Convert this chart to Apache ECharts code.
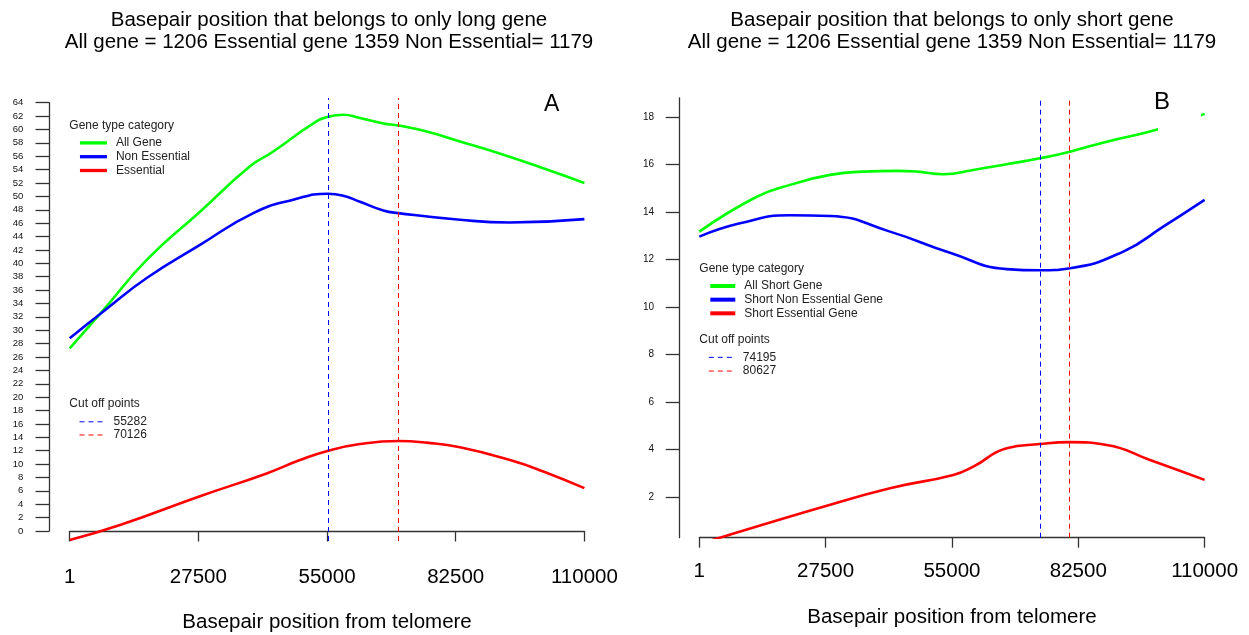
<!DOCTYPE html>
<html>
<head>
<meta charset="utf-8">
<title>Basepair position from telomere</title>
<script src="https://cdn.jsdelivr.net/npm/echarts@6/dist/echarts.min.js"></script>
<style>
  html, body { margin: 0; padding: 0; background: #fff; }
  #chart { width: 1249px; height: 635px; }
</style>
</head>
<body>
<div id="chart"></div>
<script>
// ---- data -------------------------------------------------------------
const xTicks = [1, 27500, 55000, 82500, 110000];
const shortYTicks = [2, 4, 6, 8, 10, 12, 14, 16, 18];

// Panel A: positions belonging only to long genes ([bp, value])
const allGeneLong = [
  [1, 27.3], [7180, 33.0], [16460, 40.5], [27850, 47.7], [38530, 54.5],
  [43510, 56.7], [52060, 60.9], [55260, 61.9], [58470, 62.2], [62040, 61.7],
  [67020, 60.9], [70230, 60.6], [76300, 59.7], [83420, 58.2], [90540, 56.7],
  [101220, 54.2], [110000, 52.0]
];
const nonEssentialLong = [
  [1, 28.8], [7180, 32.8], [16460, 37.8], [27850, 42.75], [39240, 47.5],
  [47780, 49.5], [55260, 50.4], [58470, 50.1], [62040, 49.2], [67020, 47.9],
  [70230, 47.5], [83420, 46.5], [94100, 46.1], [110000, 46.6]
];
const essentialLong = [
  [1, -1.35], [10750, 0.9], [27850, 5.2], [42090, 8.6], [49210, 10.6],
  [55260, 12.0], [62040, 13.0], [70230, 13.45], [76300, 13.2], [83420, 12.5],
  [94100, 10.6], [101220, 8.9], [110000, 6.4]
];
const cutoffsLong = [55282, 70126];

// Panel B: positions belonging only to short genes
const allGeneShort = [
  [1, 13.18], [12490, 14.65], [19740, 15.15], [28450, 15.57], [35700, 15.71],
  [42960, 15.74], [47300, 15.71], [53120, 15.6], [59650, 15.78], [66920, 16.02],
  [74170, 16.27], [80700, 16.55], [88690, 16.97], [99520, 17.47], [110000, 18.14]
];
const nonEssentialShort = [
  [1, 12.97], [8860, 13.53], [19740, 13.87], [28450, 13.84], [41510, 13.18],
  [54570, 12.29], [66920, 11.6], [74170, 11.55], [80700, 11.64], [92300, 12.34],
  [101000, 13.39], [110000, 14.52]
];
const essentialShort = [
  [1, 0.02], [5226, 0.33], [27000, 1.59], [41510, 2.37], [55300, 2.93],
  [59650, 3.28], [66920, 4.05], [74170, 4.23], [80700, 4.31], [88690, 4.19],
  [98120, 3.56], [110000, 2.72]
];
const cutoffsShort = [74195, 80627];

const titleLong = 'Basepair position that belongs to only long gene\nAll gene = 1206 Essential gene 1359 Non Essential= 1179';
const titleShort = 'Basepair position that belongs to only short gene\nAll gene = 1206 Essential gene 1359 Non Essential= 1179';
const xName = 'Basepair position from telomere';

// ---- styling helpers ---------------------------------------------------
const FONT = '"Liberation Sans", Arial, Helvetica, sans-serif';
const AXIS_COLOR = '#333';
const GREEN = '#00ff00', BLUE = '#0000ff', RED = '#ff0000';
const DASH = [5, 4];

function curve(name, data, color, xi, yi, width) {
  return {
    name, type: 'line', data, xAxisIndex: xi, yAxisIndex: yi,
    smooth: 0.5, symbol: 'none', clip: true,
    lineStyle: { color, width }, itemStyle: { color },
    emphasis: { disabled: true }, silent: true, z: 3
  };
}
function cutoff(value, color, xi, yi) {
  return {
    name: String(value), type: 'line', data: [], xAxisIndex: xi, yAxisIndex: yi,
    symbol: 'none', lineStyle: { color, width: 1, type: DASH }, itemStyle: { color },
    silent: true, z: 4,
    markLine: {
      silent: true, symbol: 'none', label: { show: false },
      lineStyle: { color, width: 1, type: DASH, opacity: 1 },
      emphasis: { disabled: true },
      data: [{ xAxis: value }]
    }
  };
}
function xAxisDef(gridIndex, labelMargin, nameGap, tickLen) {
  return {
    type: 'value', gridIndex, min: 1, max: 110000,
    axisLine: { show: true, lineStyle: { color: AXIS_COLOR, width: 1.3 } },
    axisTick: { show: true, length: tickLen, customValues: xTicks, lineStyle: { color: AXIS_COLOR, width: 1.3 } },
    axisLabel: { customValues: xTicks, margin: labelMargin, fontSize: 20.5, color: '#000', fontFamily: FONT, formatter: v => String(v) },
    splitLine: { show: false },
    name: xName, nameLocation: 'middle', nameGap,
    nameTextStyle: { fontSize: 20.5, color: '#000', fontFamily: FONT }
  };
}
// line-only legend keys: the point marker is made fully transparent
function legendDef(names, left, top, iconW, rowH, lineW) {
  return {
    orient: 'vertical', left, top, padding: 0, itemGap: 0,
    itemWidth: iconW, itemHeight: rowH, selectedMode: false,
    itemStyle: { opacity: 0, borderWidth: 0 },
    data: names.map(n => ({ name: n, lineStyle: { width: lineW } })),
    textStyle: { fontSize: 12, lineHeight: rowH, color: '#222', fontFamily: FONT, padding: [0, 0, 0, 4] }
  };
}
function label(text, x, y, size) {
  return {
    type: 'text', x, y, z: 101, silent: true,
    style: { text, fill: '#222', font: size + 'px ' + FONT, align: 'left', verticalAlign: 'middle' }
  };
}

const option = {
  animation: false,
  backgroundColor: '#fff',
  textStyle: { fontFamily: FONT },
  grid: [
    // panel A plotting region
    { left: 69.7, right: 1249 - 584.4, top: 98, bottom: 635 - 541, outerBoundsMode: 'none', containLabel: false },
    // panel A value axis, drawn from 0 to 64 only
    { left: 49, width: 10, top: 102.7, bottom: 635 - 531, outerBoundsMode: 'none', containLabel: false },
    // panel B plotting region
    { left: 699.3, right: 1249 - 1204.6, top: 98, bottom: 635 - 537.7, outerBoundsMode: 'none', containLabel: false }
  ],
  xAxis: [
    xAxisDef(0, 25.5, 70.5, 10.5),
    { type: 'value', gridIndex: 1, show: false, min: 0, max: 1 },
    xAxisDef(2, 23, 69, 10)
  ],
  yAxis: [
    { type: 'value', gridIndex: 0, show: false, min: -1.494, max: 64.70, splitLine: { show: false } },
    {
      type: 'value', gridIndex: 1, min: 0, max: 64, interval: 2,
      axisLine: { show: true, lineStyle: { color: AXIS_COLOR, width: 1.3 } },
      axisTick: { show: true, length: 13.5, lineStyle: { color: AXIS_COLOR, width: 1.3 } },
      axisLabel: { margin: 25.7, fontSize: 9.5, color: '#111', fontFamily: FONT, showMinLabel: true, showMaxLabel: true },
      splitLine: { show: false }
    },
    {
      type: 'value', gridIndex: 2, min: 0.285, max: 18.81, offset: 20.3,
      axisLine: { show: true, lineStyle: { color: AXIS_COLOR, width: 1.3 } },
      axisTick: { show: true, length: 13.3, customValues: shortYTicks, lineStyle: { color: AXIS_COLOR, width: 1.3 } },
      axisLabel: { customValues: shortYTicks, margin: 25, fontSize: 10, color: '#111', fontFamily: FONT },
      splitLine: { show: false }
    }
  ],
  legend: [
    legendDef(['All Gene', 'Non Essential', 'Essential'], 78.3, 136, 27, 13.8, 3.3),
    legendDef(cutoffsLong.map(String), 79, 415.2, 25, 13.2, 1),
    legendDef(['All Short Gene', 'Short Non Essential Gene', 'Short Essential Gene'], 708.3, 279.2, 25, 13.65, 4),
    legendDef(cutoffsShort.map(String), 708.3, 350.5, 25, 13.7, 1)
  ],
  series: [
    curve('All Gene', allGeneLong, GREEN, 0, 0, 2.6),
    curve('Non Essential', nonEssentialLong, BLUE, 0, 0, 2.6),
    curve('Essential', essentialLong, RED, 0, 0, 2.6),
    cutoff(cutoffsLong[0], BLUE, 0, 0),
    cutoff(cutoffsLong[1], RED, 0, 0),
    curve('All Short Gene', allGeneShort, GREEN, 2, 2, 2.6),
    curve('Short Non Essential Gene', nonEssentialShort, BLUE, 2, 2, 2.6),
    curve('Short Essential Gene', essentialShort, RED, 2, 2, 2.6),
    cutoff(cutoffsShort[0], BLUE, 2, 2),
    cutoff(cutoffsShort[1], RED, 2, 2)
  ],
  graphic: [
    { type: 'text', x: 329, y: 31, silent: true,
      style: { text: titleLong, fill: '#000', font: '20.5px ' + FONT, lineHeight: 22, align: 'center', verticalAlign: 'middle' } },
    { type: 'text', x: 952, y: 31, silent: true,
      style: { text: titleShort, fill: '#000', font: '20.5px ' + FONT, lineHeight: 22, align: 'center', verticalAlign: 'middle' } },
    label('Gene type category', 69.3, 126, 12),
    label('Cut off points', 69.3, 403.5, 12),
    label('Gene type category', 699.3, 268.3, 12),
    label('Cut off points', 699.3, 340, 12),
    // panel letters (the B sits on an opaque white box)
    { type: 'text', x: 551.7, y: 105, z: 101, silent: true,
      style: { text: 'A', fill: '#000', font: '23px ' + FONT, align: 'center', verticalAlign: 'middle' } },
    { type: 'rect', z: 100, silent: true, shape: { x: 1158, y: 78, width: 43, height: 56 }, style: { fill: '#fff' } },
    { type: 'text', x: 1162, y: 102, z: 101, silent: true,
      style: { text: 'B', fill: '#000', font: '24px ' + FONT, align: 'center', verticalAlign: 'middle' } }
  ]
};

const chart = echarts.init(document.getElementById('chart'), null, { renderer: 'canvas' });
chart.setOption(option);
</script>
</body>
</html>
